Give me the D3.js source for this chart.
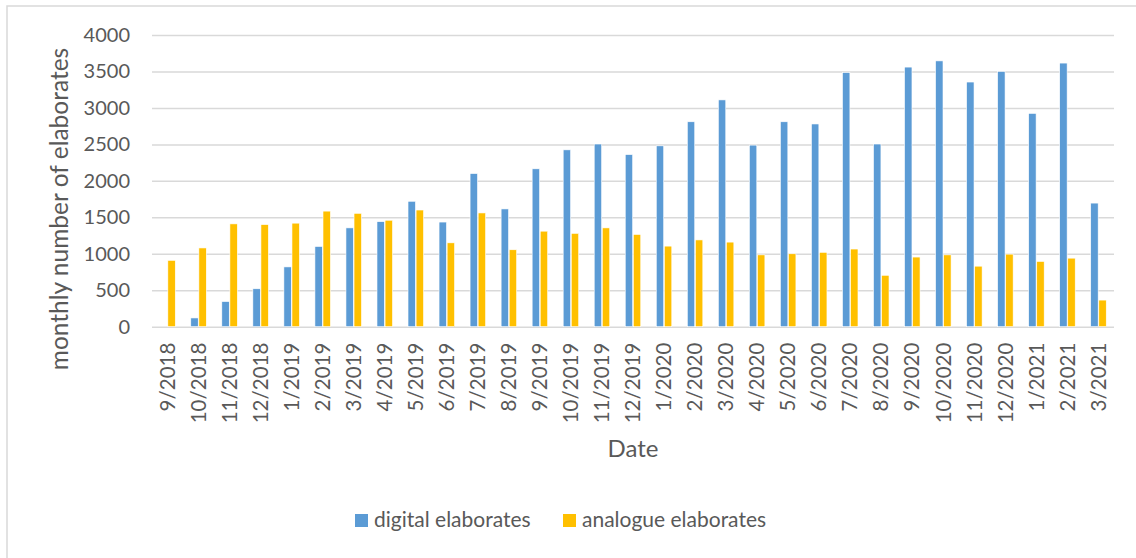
<!DOCTYPE html>
<html>
<head>
<meta charset="utf-8">
<script src="https://cdn.jsdelivr.net/npm/d3@7"></script>
<style>
  body { margin: 0; background: #fff; }
  text { font-family: Lato, "Open Sans", sans-serif; fill: #595959; }
</style>
</head>
<body>
<div id="viz-container"></div>
<script>
let w = 1136;
let h = 558;

// data
let months = ["9/2018","10/2018","11/2018","12/2018","1/2019","2/2019","3/2019","4/2019",
  "5/2019","6/2019","7/2019","8/2019","9/2019","10/2019","11/2019","12/2019",
  "1/2020","2/2020","3/2020","4/2020","5/2020","6/2020","7/2020","8/2020",
  "9/2020","10/2020","11/2020","12/2020","1/2021","2/2021","3/2021"];
let digital = [0,120,345,520,820,1100,1355,1440,
  1720,1435,2100,1615,2165,2425,2505,2360,
  2480,2810,3110,2490,2810,2780,3485,2505,
  3560,3645,3355,3500,2925,3615,1695];
let analogue = [910,1080,1410,1400,1420,1585,1555,1460,
  1600,1150,1560,1055,1310,1280,1355,1265,
  1105,1190,1160,985,1000,1020,1065,705,
  955,985,830,995,895,940,365];
let seriesNames = ["digital elaborates","analogue elaborates"];
let seriesColors = ["#5B9BD5","#FFC000"];
let yTicks = [0,500,1000,1500,2000,2500,3000,3500,4000];

let plotLeft = 152, plotRight = 1114, plotTop = 35, plotBottom = 326.7;

let viz = d3.select("#viz-container")
  .append("svg")
  .attr("width", w)
  .attr("height", h);

// chart frame
viz.append("rect")
  .attr("x", 7).attr("y", 6)
  .attr("width", w + 10).attr("height", h + 10)
  .attr("fill", "none")
  .attr("stroke", "#d9d9d9")
  .attr("stroke-width", 1.5);

let xScale = d3.scaleBand().domain(months).range([plotLeft, plotRight]).paddingInner(0.5).paddingOuter(0.25);
let xInner = d3.scaleBand().domain([0, 1]).range([0, xScale.bandwidth()]).paddingInner(0.08);
let yScale = d3.scaleLinear().domain([0, 4000]).range([plotBottom, plotTop]);

// gridlines
let yAxis = d3.axisLeft(yScale).tickValues(yTicks).tickSize(-(plotRight - plotLeft)).tickPadding(22).tickFormat(d3.format("d"));
let yAxisGroup = viz.append("g")
  .attr("class", "yaxisgroup")
  .attr("transform", "translate(" + plotLeft + ",0)")
  .call(yAxis);
yAxisGroup.select(".domain").remove();
yAxisGroup.selectAll("line").attr("stroke", "#d9d9d9").attr("stroke-width", 1.5);
yAxisGroup.selectAll("text")
  .attr("font-size", "20px")
  .attr("fill", "#595959");

// bars
let rows = months.map(function(m, i){ return { month: m, values: [digital[i], analogue[i]] }; });
let datagroup = viz.selectAll(".datagroup").data(rows).enter()
  .append("g")
  .attr("class", "datagroup")
  .attr("transform", function(d){ return "translate(" + xScale(d.month) + ",0)"; });

datagroup.selectAll("rect")
  .data(function(d){ return d.values.map(function(v, k){ return { k: k, v: v }; }); })
  .enter()
  .append("rect")
  .attr("x", function(d){ return xInner(d.k); })
  .attr("width", xInner.bandwidth())
  .attr("y", function(d){ return yScale(d.v); })
  .attr("height", function(d){ return plotBottom - yScale(d.v); })
  .attr("fill", function(d){ return seriesColors[d.k]; })
  .attr("stroke", "#fff")
  .attr("stroke-width", 0.6);

// x axis labels
let xAxis = d3.axisBottom(xScale).tickSize(0).tickPadding(0);
let xAxisGroup = viz.append("g")
  .attr("class", "xaxisgroup")
  .attr("transform", "translate(0," + plotBottom + ")")
  .call(xAxis);
xAxisGroup.select(".domain").remove();
xAxisGroup.selectAll("text")
  .attr("font-size", "20.5px")
  .attr("fill", "#595959")
  .attr("text-anchor", "end")
  .attr("dy", "0.35em")
  .attr("transform", "translate(0,16) rotate(-90)")
  .attr("y", 0)
  .attr("x", 0);

// axis titles
viz.append("text")
  .attr("transform", "translate(68,209) rotate(-90)")
  .attr("text-anchor", "middle")
  .attr("font-size", "24.5px")
  .text("monthly number of elaborates");

viz.append("text")
  .attr("x", (plotLeft + plotRight) / 2)
  .attr("y", 457)
  .attr("text-anchor", "middle")
  .attr("font-size", "24px")
  .text("Date");

// legend
let legendX = [355, 563];
let legend = viz.selectAll(".legend").data(seriesNames).enter()
  .append("g")
  .attr("class", "legend")
  .attr("transform", function(d, i){ return "translate(" + legendX[i] + ",514)"; });
legend.append("rect")
  .attr("width", 13).attr("height", 13)
  .attr("fill", function(d, i){ return seriesColors[i]; });
legend.append("text")
  .attr("x", 19).attr("y", 13)
  .attr("font-size", "21px")
  .text(function(d){ return d; });
</script>
</body>
</html>
